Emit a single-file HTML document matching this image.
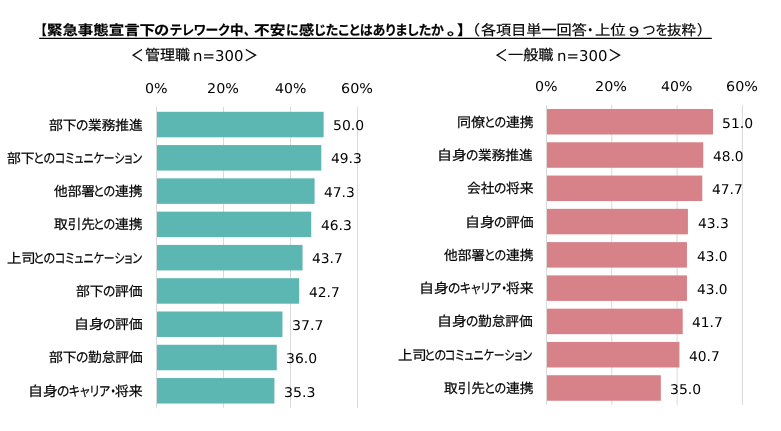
<!DOCTYPE html>
<html lang="ja"><head><meta charset="utf-8"><title>テレワーク中の不安</title>
<style>
html,body{margin:0;padding:0;background:#fff}
body{width:781px;height:431px;position:relative;overflow:hidden;color:#000}
.g{position:absolute;left:0;top:0}
.r{position:absolute;white-space:nowrap;line-height:24px;transform-origin:0 0;display:block;-webkit-text-stroke:0.2px #000;text-rendering:geometricPrecision}
.f0{font-family:"Liberation Sans","Noto Sans CJK JP",sans-serif;font-size:15.00px;font-weight:700;}
.f1{font-family:"Liberation Sans","Noto Sans CJK JP",sans-serif;font-size:15.00px;font-weight:700;font-feature-settings:'palt';}
.f2{font-family:"Liberation Sans","Noto Sans CJK JP",sans-serif;font-size:15.00px;font-weight:400;}
.f3{font-family:"Liberation Sans","Noto Sans CJK JP",sans-serif;font-size:15.00px;font-weight:400;font-feature-settings:'palt';}
.f4{font-family:"Liberation Sans","Noto Sans CJK JP",sans-serif;font-size:14.95px;font-weight:400;}
.f5{font-family:"DejaVu Sans","Liberation Sans",sans-serif;font-size:15.00px;font-weight:400;-webkit-text-stroke:0;}
.f6{font-family:"DejaVu Sans","Liberation Sans",sans-serif;font-size:13.40px;font-weight:400;-webkit-text-stroke:0;}
.f7{font-family:"Liberation Sans","Noto Sans CJK JP",sans-serif;font-size:13.60px;font-weight:400;}
.f8{font-family:"Liberation Sans","Noto Sans CJK JP",sans-serif;font-size:13.60px;font-weight:400;font-feature-settings:'palt';}
</style></head>
<body>
<svg class="g" width="781" height="431" viewBox="0 0 781 431" shape-rendering="auto">
<rect x="156.00" y="107.00" width="1.00" height="300.70" fill="#d9d9d9"/>
<rect x="223.00" y="107.00" width="1.00" height="300.70" fill="#d9d9d9"/>
<rect x="290.00" y="107.00" width="1.00" height="300.70" fill="#d9d9d9"/>
<rect x="357.00" y="107.00" width="1.00" height="300.70" fill="#d9d9d9"/>
<rect x="546.00" y="105.00" width="1.00" height="299.90" fill="#d9d9d9"/>
<rect x="611.30" y="105.00" width="1.00" height="299.90" fill="#d9d9d9"/>
<rect x="676.60" y="105.00" width="1.00" height="299.90" fill="#d9d9d9"/>
<rect x="741.90" y="105.00" width="1.00" height="299.90" fill="#d9d9d9"/>
<rect x="157" y="111.80" width="166.65" height="25.50" fill="#5cb7b2"/>
<rect x="157" y="145.08" width="164.31" height="25.50" fill="#5cb7b2"/>
<rect x="157" y="178.36" width="157.60" height="25.50" fill="#5cb7b2"/>
<rect x="157" y="211.64" width="154.25" height="25.50" fill="#5cb7b2"/>
<rect x="157" y="244.92" width="145.55" height="25.50" fill="#5cb7b2"/>
<rect x="157" y="278.20" width="142.20" height="25.50" fill="#5cb7b2"/>
<rect x="157" y="311.48" width="125.45" height="25.50" fill="#5cb7b2"/>
<rect x="157" y="344.76" width="119.75" height="25.50" fill="#5cb7b2"/>
<rect x="157" y="378.04" width="117.41" height="25.50" fill="#5cb7b2"/>
<rect x="547" y="109.00" width="166.04" height="25.50" fill="#d78188"/>
<rect x="547" y="142.28" width="156.25" height="25.50" fill="#d78188"/>
<rect x="547" y="175.56" width="155.27" height="25.50" fill="#d78188"/>
<rect x="547" y="208.84" width="140.92" height="25.50" fill="#d78188"/>
<rect x="547" y="242.12" width="139.94" height="25.50" fill="#d78188"/>
<rect x="547" y="275.40" width="139.94" height="25.50" fill="#d78188"/>
<rect x="547" y="308.68" width="135.70" height="25.50" fill="#d78188"/>
<rect x="547" y="341.96" width="132.43" height="25.50" fill="#d78188"/>
<rect x="547" y="375.24" width="113.84" height="25.50" fill="#d78188"/>
<rect x="39.2" y="37.75" width="672.6" height="1.25" fill="#000"/>
</svg>
<div class="title"><span class="r f0" style="left:34.51px;top:20.31px;transform:scale(0.7789,0.9193)">【</span><span class="r f0" style="left:46.83px;top:20.31px;transform:scale(1.0290,0.9193)">緊急事態宣言下</span><span class="r f0" style="left:154.48px;top:20.31px;transform:scale(1.0154,0.9193)">の</span><span class="r f1" style="left:169.97px;top:20.31px;transform:scale(0.8553,0.9193)">テレワーク</span><span class="r f0" style="left:230.17px;top:20.31px;transform:scale(0.9040,0.9193)">中</span><span class="r f0" style="left:244.23px;top:20.31px;transform:scale(0.7579,0.9193)">、</span><span class="r f0" style="left:254.38px;top:20.31px;transform:scale(1.0435,0.9193)">不安</span><span class="r f0" style="left:285.53px;top:20.31px;transform:scale(0.8490,0.9193)">に</span><span class="r f0" style="left:298.79px;top:20.31px;transform:scale(1.0143,0.9193)">感</span><span class="r f1" style="left:313.66px;top:20.31px;transform:scale(0.8642,0.9193)">じたことはありましたか</span><span class="r f0" style="left:446.91px;top:20.31px;transform:scale(1.1789,0.9193)">。</span><span class="r f0" style="left:456.61px;top:20.31px;transform:scale(0.9895,0.9193)">】</span><span class="r f2" style="left:464.10px;top:20.26px;transform:scale(1.0667,0.9357)">（</span><span class="r f2" style="left:480.80px;top:20.26px;transform:scale(1.0077,0.9357)">各項目単一回答</span><span class="r f2" style="left:584.02px;top:20.26px;transform:scale(0.8308,0.9357)">・</span><span class="r f2" style="left:594.83px;top:20.26px;transform:scale(1.0226,0.9357)">上位</span><span class="r f2" style="left:626.44px;top:22.45px;transform:scale(1.0750,0.8522)">９</span><span class="r f3" style="left:642.85px;top:20.26px;transform:scale(0.8724,0.9357)">つを</span><span class="r f2" style="left:667.32px;top:20.26px;transform:scale(0.9586,0.9357)">抜粋</span><span class="r f2" style="left:696.88px;top:20.26px;transform:scale(0.9600,0.9357)">）</span></div>
<div class="sub"><span class="r f4" style="left:131.14px;top:44.09px;transform:scale(0.8426,1.0435)">＜</span><span class="r f4" style="left:144.55px;top:44.81px;transform:scale(1.0034,0.9673)">管理職</span> <span class="r f5" style="left:193.36px;top:43.55px;transform:scale(0.9938,0.9913)">n=300</span><span class="r f4" style="left:243.67px;top:44.09px;transform:scale(0.9304,1.0435)">＞</span></div>
<div class="sub"><span class="r f4" style="left:495.14px;top:44.09px;transform:scale(0.8426,1.0435)">＜</span><span class="r f4" style="left:508.04px;top:44.81px;transform:scale(1.0149,0.9673)">一般職</span> <span class="r f5" style="left:557.36px;top:43.55px;transform:scale(0.9938,0.9913)">n=300</span><span class="r f4" style="left:607.67px;top:44.09px;transform:scale(0.9304,1.0435)">＞</span></div>
<div class="ax"><span class="r f6" style="left:144.90px;top:77.73px;transform:scale(1.0633,1.0049)">0%</span></div>
<div class="ax"><span class="r f6" style="left:207.13px;top:77.73px;transform:scale(1.0714,1.0049)">20%</span></div>
<div class="ax"><span class="r f6" style="left:274.67px;top:77.73px;transform:scale(1.0526,1.0049)">40%</span></div>
<div class="ax"><span class="r f6" style="left:341.13px;top:77.73px;transform:scale(1.0714,1.0049)">60%</span></div>
<div class="ax"><span class="r f6" style="left:534.90px;top:75.73px;transform:scale(1.0633,1.0049)">0%</span></div>
<div class="ax"><span class="r f6" style="left:595.43px;top:75.73px;transform:scale(1.0714,1.0049)">20%</span></div>
<div class="ax"><span class="r f6" style="left:661.27px;top:75.73px;transform:scale(1.0526,1.0049)">40%</span></div>
<div class="ax"><span class="r f6" style="left:726.03px;top:75.73px;transform:scale(1.0714,1.0049)">60%</span></div>
<div class="lab"><span class="r f7" style="left:48.69px;top:113.50px;transform:scale(1.0154,0.9882)">部下</span><span class="r f8" style="left:75.71px;top:113.50px;transform:scale(0.9422,0.9882)">の</span><span class="r f7" style="left:87.80px;top:113.50px;transform:scale(1.0066,0.9882)">業務推進</span></div>
<div class="lab"><span class="r f7" style="left:7.29px;top:146.78px;transform:scale(1.0154,0.9882)">部下</span><span class="r f8" style="left:33.24px;top:146.78px;transform:scale(0.8920,0.9882)">との</span><span class="r f8" style="left:54.75px;top:146.78px;transform:scale(0.8009,0.9882)">コミュニケーション</span></div>
<div class="lab"><span class="r f7" style="left:53.75px;top:180.06px;transform:scale(1.0063,0.9882)">他部署</span><span class="r f8" style="left:93.04px;top:180.06px;transform:scale(0.8920,0.9882)">との</span><span class="r f7" style="left:114.99px;top:180.06px;transform:scale(1.0154,0.9882)">連携</span></div>
<div class="lab"><span class="r f7" style="left:53.50px;top:213.34px;transform:scale(1.0063,0.9882)">取引先</span><span class="r f8" style="left:93.04px;top:213.34px;transform:scale(0.8920,0.9882)">との</span><span class="r f7" style="left:114.99px;top:213.34px;transform:scale(1.0154,0.9882)">連携</span></div>
<div class="lab"><span class="r f7" style="left:7.01px;top:246.62px;transform:scale(1.0560,0.9882)">上司</span><span class="r f8" style="left:33.24px;top:246.62px;transform:scale(0.8920,0.9882)">との</span><span class="r f8" style="left:54.75px;top:246.62px;transform:scale(0.8009,0.9882)">コミュニケーション</span></div>
<div class="lab"><span class="r f7" style="left:75.89px;top:279.90px;transform:scale(1.0154,0.9882)">部下</span><span class="r f8" style="left:102.91px;top:279.90px;transform:scale(0.9422,0.9882)">の</span><span class="r f7" style="left:114.99px;top:279.90px;transform:scale(1.0154,0.9882)">評価</span></div>
<div class="lab"><span class="r f7" style="left:73.93px;top:313.18px;transform:scale(1.1000,0.9882)">自身</span><span class="r f8" style="left:102.91px;top:313.18px;transform:scale(0.9422,0.9882)">の</span><span class="r f7" style="left:114.99px;top:313.18px;transform:scale(1.0154,0.9882)">評価</span></div>
<div class="lab"><span class="r f7" style="left:48.69px;top:346.46px;transform:scale(1.0154,0.9882)">部下</span><span class="r f8" style="left:75.71px;top:346.46px;transform:scale(0.9422,0.9882)">の</span><span class="r f7" style="left:87.80px;top:346.46px;transform:scale(1.0066,0.9882)">勤怠評価</span></div>
<div class="lab"><span class="r f7" style="left:28.13px;top:379.74px;transform:scale(1.1000,0.9882)">自身</span><span class="r f8" style="left:57.11px;top:379.74px;transform:scale(0.9422,0.9882)">の</span><span class="r f8" style="left:69.09px;top:379.74px;transform:scale(0.8641,0.9882)">キャリア・</span><span class="r f7" style="left:114.99px;top:379.74px;transform:scale(1.0154,0.9882)">将来</span></div>
<div class="lab"><span class="r f7" style="left:456.91px;top:110.80px;transform:scale(1.0353,0.9882)">同僚</span><span class="r f8" style="left:483.64px;top:110.80px;transform:scale(0.8920,0.9882)">との</span><span class="r f7" style="left:505.59px;top:110.80px;transform:scale(1.0154,0.9882)">連携</span></div>
<div class="lab"><span class="r f7" style="left:437.32px;top:144.08px;transform:scale(1.1000,0.9882)">自身</span><span class="r f8" style="left:466.31px;top:144.08px;transform:scale(0.9422,0.9882)">の</span><span class="r f7" style="left:478.40px;top:144.08px;transform:scale(1.0066,0.9882)">業務推進</span></div>
<div class="lab"><span class="r f7" style="left:466.50px;top:177.36px;transform:scale(1.0057,0.9882)">会社</span><span class="r f8" style="left:493.51px;top:177.36px;transform:scale(0.9422,0.9882)">の</span><span class="r f7" style="left:505.59px;top:177.36px;transform:scale(1.0154,0.9882)">将来</span></div>
<div class="lab"><span class="r f7" style="left:464.52px;top:210.64px;transform:scale(1.1000,0.9882)">自身</span><span class="r f8" style="left:493.51px;top:210.64px;transform:scale(0.9422,0.9882)">の</span><span class="r f7" style="left:505.59px;top:210.64px;transform:scale(1.0154,0.9882)">評価</span></div>
<div class="lab"><span class="r f7" style="left:444.35px;top:243.92px;transform:scale(1.0063,0.9882)">他部署</span><span class="r f8" style="left:483.64px;top:243.92px;transform:scale(0.8920,0.9882)">との</span><span class="r f7" style="left:505.59px;top:243.92px;transform:scale(1.0154,0.9882)">連携</span></div>
<div class="lab"><span class="r f7" style="left:418.72px;top:277.20px;transform:scale(1.1000,0.9882)">自身</span><span class="r f8" style="left:447.71px;top:277.20px;transform:scale(0.9422,0.9882)">の</span><span class="r f8" style="left:459.69px;top:277.20px;transform:scale(0.8641,0.9882)">キャリア・</span><span class="r f7" style="left:505.59px;top:277.20px;transform:scale(1.0154,0.9882)">将来</span></div>
<div class="lab"><span class="r f7" style="left:437.32px;top:310.48px;transform:scale(1.1000,0.9882)">自身</span><span class="r f8" style="left:466.31px;top:310.48px;transform:scale(0.9422,0.9882)">の</span><span class="r f7" style="left:478.40px;top:310.48px;transform:scale(1.0066,0.9882)">勤怠評価</span></div>
<div class="lab"><span class="r f7" style="left:397.61px;top:343.76px;transform:scale(1.0560,0.9882)">上司</span><span class="r f8" style="left:423.84px;top:343.76px;transform:scale(0.8920,0.9882)">との</span><span class="r f8" style="left:445.35px;top:343.76px;transform:scale(0.8009,0.9882)">コミュニケーション</span></div>
<div class="lab"><span class="r f7" style="left:444.10px;top:377.04px;transform:scale(1.0063,0.9882)">取引先</span><span class="r f8" style="left:483.64px;top:377.04px;transform:scale(0.8920,0.9882)">との</span><span class="r f7" style="left:505.59px;top:377.04px;transform:scale(1.0154,0.9882)">連携</span></div>
<div class="val"><span class="r f6" style="left:332.76px;top:114.78px;transform:scale(1.0429,1.0049)">50.0</span></div>
<div class="val"><span class="r f6" style="left:330.94px;top:148.15px;transform:scale(1.0336,1.0049)">49.3</span></div>
<div class="val"><span class="r f6" style="left:324.24px;top:181.52px;transform:scale(1.0336,1.0049)">47.3</span></div>
<div class="val"><span class="r f6" style="left:320.89px;top:214.89px;transform:scale(1.0336,1.0049)">46.3</span></div>
<div class="val"><span class="r f6" style="left:312.18px;top:248.26px;transform:scale(1.0336,1.0049)">43.7</span></div>
<div class="val"><span class="r f6" style="left:308.83px;top:281.63px;transform:scale(1.0336,1.0049)">42.7</span></div>
<div class="val"><span class="r f6" style="left:291.54px;top:315.00px;transform:scale(1.0523,1.0049)">37.7</span></div>
<div class="val"><span class="r f6" style="left:285.86px;top:348.37px;transform:scale(1.0429,1.0049)">36.0</span></div>
<div class="val"><span class="r f6" style="left:283.50px;top:381.74px;transform:scale(1.0523,1.0049)">35.3</span></div>
<div class="val"><span class="r f6" style="left:722.14px;top:112.73px;transform:scale(1.0429,1.0049)">51.0</span></div>
<div class="val"><span class="r f6" style="left:712.89px;top:145.99px;transform:scale(1.0246,1.0049)">48.0</span></div>
<div class="val"><span class="r f6" style="left:711.90px;top:179.25px;transform:scale(1.0336,1.0049)">47.7</span></div>
<div class="val"><span class="r f6" style="left:697.55px;top:212.51px;transform:scale(1.0336,1.0049)">43.3</span></div>
<div class="val"><span class="r f6" style="left:696.58px;top:245.77px;transform:scale(1.0246,1.0049)">43.0</span></div>
<div class="val"><span class="r f6" style="left:696.58px;top:279.03px;transform:scale(1.0246,1.0049)">43.0</span></div>
<div class="val"><span class="r f6" style="left:692.33px;top:312.29px;transform:scale(1.0336,1.0049)">41.7</span></div>
<div class="val"><span class="r f6" style="left:689.07px;top:345.55px;transform:scale(1.0336,1.0049)">40.7</span></div>
<div class="val"><span class="r f6" style="left:669.94px;top:378.81px;transform:scale(1.0429,1.0049)">35.0</span></div>
</body></html>
